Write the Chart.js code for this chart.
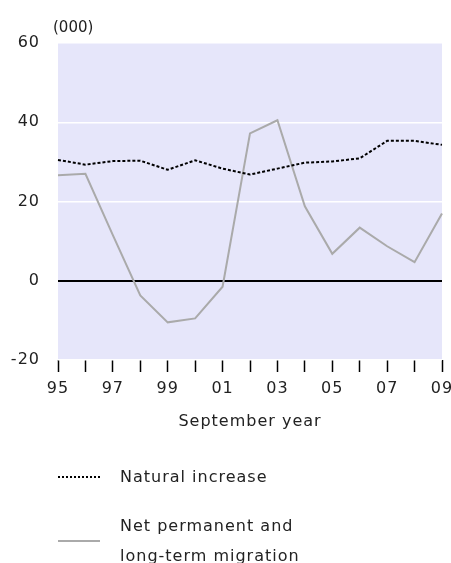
<!DOCTYPE html>
<html>
<head>
<meta charset="utf-8">
<script src="https://cdn.jsdelivr.net/npm/chart.js@4"></script>
<style>
  body { margin: 0; background: #fff; }
  #wrap { position: relative; width: 451px; height: 563px; }
  #unit { position: absolute; left: 53px; top: 18px; font: 15px "DejaVu Sans"; color: #222; }
  .leg { position: absolute; left: 120px; font: 16px "DejaVu Sans"; color: #222; letter-spacing: 1px; line-height: 30px; }
  .swatch { position: absolute; left: 58px; width: 42px; }
</style>
</head>
<body>
<div id="wrap">
  <canvas id="myChart" width="451" height="563"></canvas>
  <div id="unit">(000)</div>
  <div class="swatch" style="top:476px; border-top:2px dotted #000;"></div>
  <div class="leg" style="top:462px;">Natural increase</div>
  <div class="swatch" style="top:540px; border-top:2px solid #aaa;"></div>
  <div class="leg" style="top:511px;">Net permanent and<br>long-term migration</div>
</div>
<script>
const years = ['95', '96', '97', '98', '99', '00', '01', '02', '03', '04', '05', '06', '07', '08', '09'];
const naturalIncrease = [30.5, 29.3, 30.2, 30.3, 28.0, 30.4, 28.3, 26.8, 28.3, 29.8, 30.1, 30.9, 35.3, 35.3, 34.3];
const netMigration = [26.6, 27.0, 11.5, -3.7, -10.5, -9.5, -1.5, 37.2, 40.5, 18.8, 6.8, 13.4, 8.7, 4.7, 17.0];
const yTicks = [-20, 0, 20, 40, 60];

Chart.defaults.font.family = 'DejaVu Sans';
Chart.defaults.font.size = 16;
Chart.defaults.color = '#222';

// lavender plot background + letter spacing on canvas text
const plotBg = {
    id: 'plotBg',
    beforeDraw(chart) {
        const {ctx, chartArea} = chart;
        ctx.letterSpacing = '1px';
        ctx.save();
        ctx.fillStyle = '#e6e6fa';
        ctx.fillRect(chartArea.left, chartArea.top, chartArea.right - chartArea.left, chartArea.bottom - chartArea.top);
        ctx.restore();
    }
};

const ctx = document.getElementById('myChart');

new Chart(ctx, {
    type: 'line',
    data: {
        labels: years,
        datasets: [{
            label: 'Natural increase',
            data: naturalIncrease,
            borderColor: '#000',
            borderWidth: 2,
            borderDash: [3, 2],
            pointRadius: 0,
            tension: 0,
            fill: false
        }, {
            label: 'Net permanent and long-term migration',
            data: netMigration,
            borderColor: '#aaa',
            borderWidth: 2,
            pointRadius: 0,
            tension: 0,
            fill: false
        }]
    },
    options: {
        responsive: false,
        animation: false,
        layout: {
            padding: {top: 43, right: 9, bottom: 123, left: 0}
        },
        plugins: {
            legend: {display: false},
            tooltip: {enabled: false}
        },
        scales: {
            x: {
                offset: false,
                border: {display: false},
                grid: {
                    drawOnChartArea: false,
                    drawTicks: true,
                    tickLength: 12,
                    tickColor: '#000',
                    tickWidth: 1.5
                },
                ticks: {
                    autoSkip: false,
                    maxRotation: 0,
                    padding: 7,
                    color: '#222',
                    callback: function (val, i) {
                        return i % 2 === 0 ? years[i] : '';
                    }
                },
                title: {
                    display: true,
                    text: 'September year',
                    font: {size: 16},
                    color: '#222',
                    padding: {top: 0, bottom: 9}
                },
                afterFit: function (scale) {
                    scale.height = 80;
                    scale.paddingLeft = 0;
                    scale.paddingRight = 0;
                }
            },
            y: {
                min: -20,
                max: 60,
                border: {display: false},
                afterBuildTicks: function (scale) {
                    scale.ticks = yTicks.map(v => ({value: v}));
                },
                grid: {
                    drawTicks: false,
                    color: c => c.tick.value === 0 ? '#000' : '#fff',
                    lineWidth: c => c.tick.value === 0 ? 2 : 1.5
                },
                ticks: {
                    padding: 18,
                    color: '#222'
                },
                afterFit: function (scale) {
                    scale.width = 58;
                }
            }
        }
    },
    plugins: [plotBg]
});
</script>
</body>
</html>
